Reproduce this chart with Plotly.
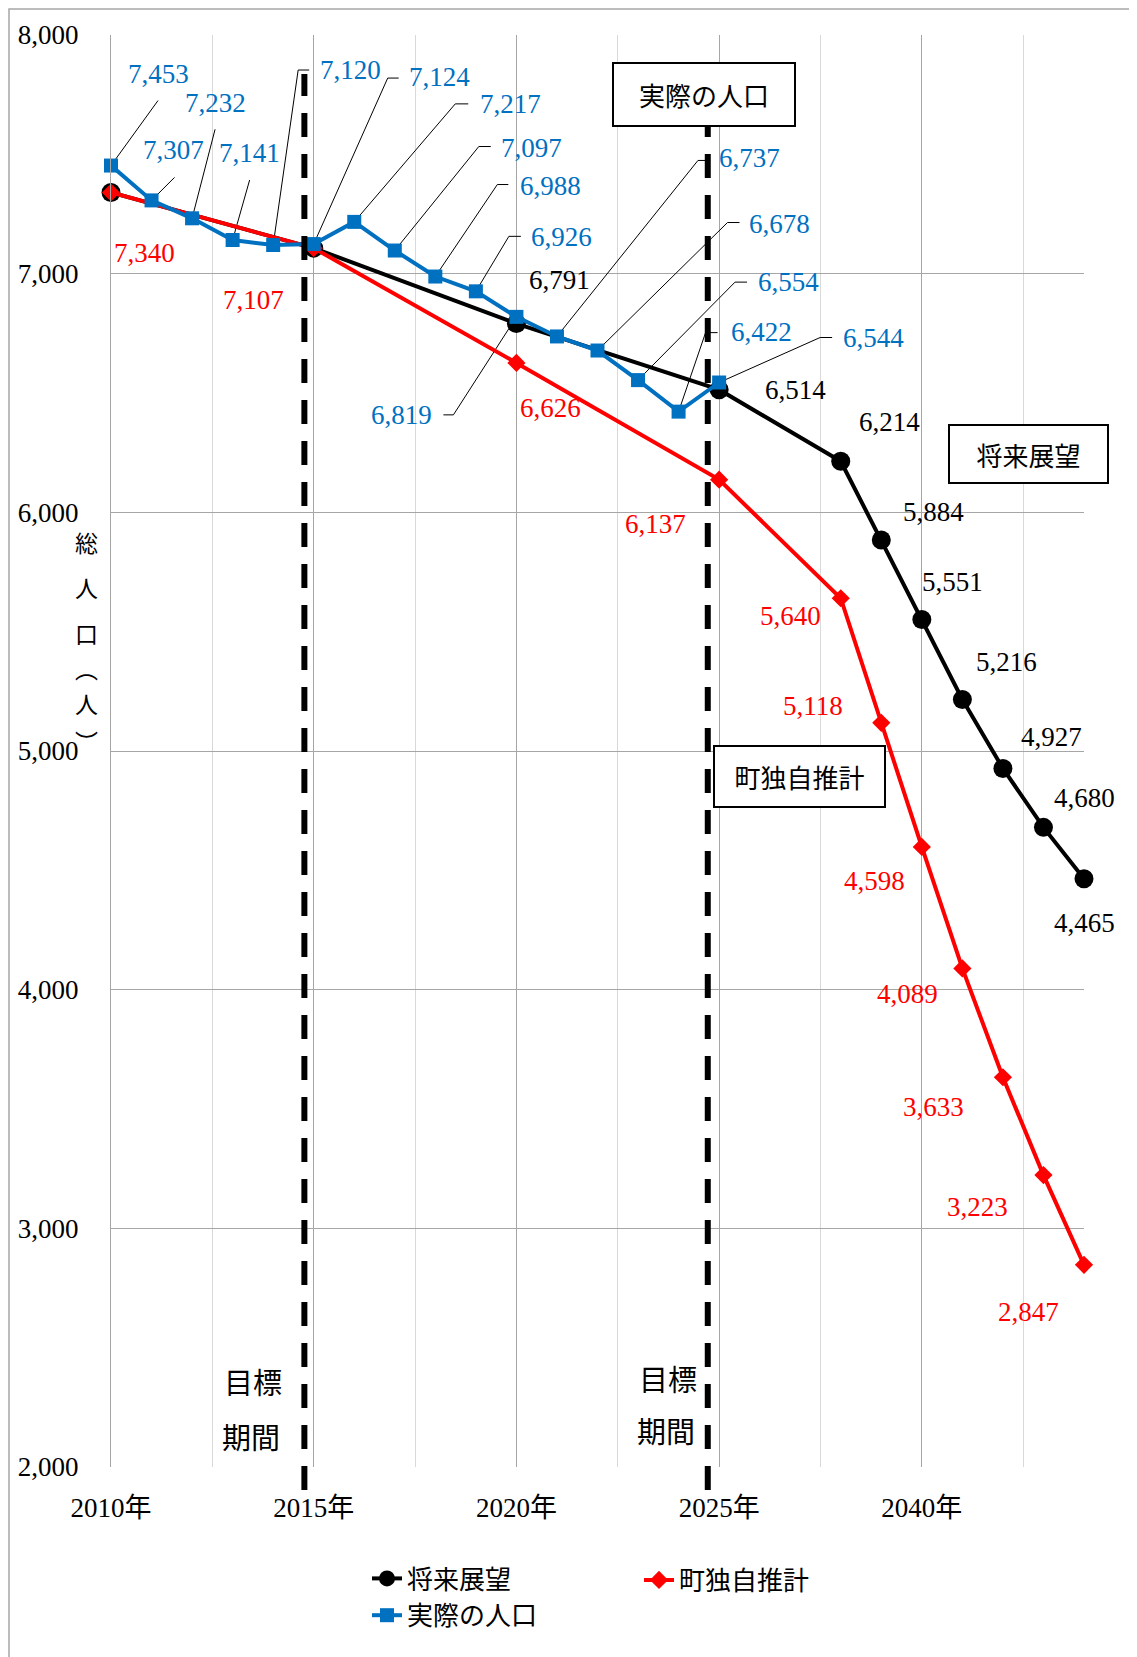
import plotly.graph_objects as go

# ---------------- data ----------------
years = [2010, 2011, 2012, 2013, 2014, 2015, 2016, 2017, 2018, 2019,
         2020, 2021, 2022, 2023, 2024, 2025, 2026, 2027,
         2030, 2035, 2040, 2045, 2050, 2055, 2060]
tick_years = [2010, 2015, 2020, 2025, 2040]

proj_years = [2010, 2015, 2020, 2025, 2030, 2035, 2040, 2045, 2050, 2055, 2060]
future_vision = [7340, 7107, 6791, 6514, 6214, 5884, 5551, 5216, 4927, 4680, 4465]
town_estimate = [7340, 7107, 6626, 6137, 5640, 5118, 4598, 4089, 3633, 3223, 2847]

actual_years = [2010, 2011, 2012, 2013, 2014, 2015, 2016, 2017,
                2018, 2019, 2020, 2021, 2022, 2023, 2024, 2025]
actual_pop = [7453, 7307, 7232, 7141, 7120, 7124, 7217, 7097,
              6988, 6926, 6819, 6737, 6678, 6554, 6422, 6544]

# ---------------- label placement (pixel offsets, screen y down) ----------------
black_offsets = [None, None, (43, -44), (76, 0), (49, -39), (52, -28), (31, -37),
                 (44, -37), (49, -31), (41, -29), (0, 44)]
red_offsets = [(33, 60), (-60, 52), (34, 45), (-64, 44), (-50, 18), (-68, -17),
               (-47, 34), (-55, 26), (-69, 30), (-66, 32), (-56, 47)]
blue_offsets = [
    ((47, -92), [(47, -65)]),
    ((22, -50), [(23, -23)]),
    ((23, -115), [(23, -89)]),
    ((17, -87), [(17, -60)]),
    ((77, -175), [(25, -175), (36, -175)]),
    ((126, -167), [(74, -166), (85, -166)]),
    ((156, -118), [(101, -118), (114, -118)]),
    ((137, -103), [(84, -104), (96, -104)]),
    ((115, -91), [(62, -92), (73, -92)]),
    ((86, -54), [(33, -55), (45, -55)]),
    ((-115, 98), [(-63, 98), (-73, 98)]),
    ((193, -178), [(141, -176), (150, -176)]),
    ((182, -127), [(130, -128), (142, -128)]),
    ((150, -98), [(97, -98), (109, -98)]),
    ((83, -80), [(27, -79), (39, -79)]),
    ((154, -45), [(101, -45), (113, -45)]),
]

BLUE = "#0070C0"
RED = "#FF0000"
NUMFONT = "Liberation Serif, Noto Sans CJK JP"
JPFONT = "Noto Sans CJK JP"

# page has an 8px body margin; figure is sized to fit
OFF = 8
W, H = 1137 - OFF, 1657 - OFF
L, R, T, B = 111, 1084, 35, 1467   # plot area in page pixels


def px(x):
    return (x - L) / (R - L)


def py(y):
    return (B - y) / (B - T)


xi = {y: i for i, y in enumerate(years)}
fx = [xi[y] for y in proj_years]
ax_ = [xi[y] for y in actual_years]

fig = go.Figure()
fig.add_trace(go.Scatter(x=fx, y=future_vision, name="将来展望", mode="lines+markers",
                         line=dict(color="black", width=4),
                         marker=dict(symbol="circle", size=19, color="black"),
                         cliponaxis=False, legend="legend"))
fig.add_trace(go.Scatter(x=fx, y=town_estimate, name="町独自推計", mode="lines+markers",
                         line=dict(color=RED, width=4),
                         marker=dict(symbol="diamond", size=14, color=RED),
                         cliponaxis=False, legend="legend2"))
fig.add_trace(go.Scatter(x=ax_, y=actual_pop, name="実際の人口", mode="lines+markers",
                         line=dict(color=BLUE, width=4),
                         marker=dict(symbol="square", size=14, color=BLUE),
                         cliponaxis=False, legend="legend"))

annotations = []
shapes = []

for x, v, off in zip(fx, future_vision, black_offsets):
    if off is None:
        continue
    annotations.append(dict(x=x, y=v, xref="x", yref="y", text=f"{v:,}", showarrow=False,
                            xshift=off[0], yshift=-off[1],
                            font=dict(family=NUMFONT, size=27, color="black")))
for x, v, off in zip(fx, town_estimate, red_offsets):
    annotations.append(dict(x=x, y=v, xref="x", yref="y", text=f"{v:,}", showarrow=False,
                            xshift=off[0], yshift=-off[1],
                            font=dict(family=NUMFONT, size=27, color=RED)))
for x, v, (toff, leader) in zip(ax_, actual_pop, blue_offsets):
    annotations.append(dict(x=x, y=v, xref="x", yref="y", text=f"{v:,}", showarrow=False,
                            xshift=toff[0], yshift=-toff[1],
                            font=dict(family=NUMFONT, size=27, color=BLUE)))
    path = "M0,0 " + " ".join(f"L{p[0]},{-p[1]}" for p in leader)
    shapes.append(dict(type="path", xref="x", yref="y", xsizemode="pixel", ysizemode="pixel",
                       xanchor=x, yanchor=v, path=path, layer="between",
                       line=dict(color="black", width=1)))

# dashed target-period lines
shapes.append(dict(type="line", xref="x", yref="paper", x0=4.77, x1=4.77,
                   y0=py(1490), y1=py(74), layer="above",
                   line=dict(color="black", width=6, dash="24px,17px")))
shapes.append(dict(type="line", xref="x", yref="paper", x0=14.72, x1=14.72,
                   y0=py(1490), y1=py(127), layer="above",
                   line=dict(color="black", width=6, dash="24px,17px")))
# outer frame (top and left edges visible)
shapes.append(dict(type="rect", xref="paper", yref="paper", x0=px(9), x1=px(1180),
                   y0=py(1720), y1=py(9), line=dict(color="#a6a6a6", width=1.5)))

# boxed texts
for txt, cx, cy, w, h in [("実際の人口", 704, 94.5, 180, 61),
                          ("将来展望", 1028.5, 454, 157, 56),
                          ("町独自推計", 799.5, 776.5, 169, 59)]:
    annotations.append(dict(x=px(cx), y=py(cy), xref="paper", yref="paper", text=txt,
                            xanchor="center", yanchor="middle",
                            showarrow=False, width=w, height=h, borderpad=0,
                            bordercolor="black", borderwidth=2, bgcolor="white",
                            font=dict(family=JPFONT, size=26, color="black")))

# 目標期間 labels
for txt, cx, cy in [("目標", 253, 1381), ("期間", 251, 1436), ("目標", 668, 1378), ("期間", 666, 1430)]:
    annotations.append(dict(x=px(cx), y=py(cy), xref="paper", yref="paper", text=txt,
                            xanchor="center", yanchor="middle",
                            showarrow=False, font=dict(family=JPFONT, size=29, color="black")))

# vertical y-axis title
for ch, cy in [("総", 542), ("人", 587), ("口", 633), ("︵", 668), ("人", 703), ("︶", 741)]:
    annotations.append(dict(x=px(86), y=py(cy), xref="paper", yref="paper", text=ch,
                            xanchor="center", yanchor="middle",
                            showarrow=False, font=dict(family=JPFONT, size=23, color="black")))

leg_font = dict(family=JPFONT, size=26, color="black")

fig.update_layout(
    width=W, height=H,
    margin=dict(l=L - OFF, r=(W + OFF) - R, t=T - OFF, b=(H + OFF) - B),
    plot_bgcolor="white", paper_bgcolor="white",
    font=dict(family=NUMFONT, size=27, color="black"),
    showlegend=True,
    xaxis=dict(range=[0, len(years) - 1], tickmode="array",
               tickvals=[xi[y] for y in tick_years],
               ticktext=[f"{y}年" for y in tick_years],
               showgrid=True, gridcolor="#a6a6a6", gridwidth=1.3,
               minor=dict(tickvals=[2.5, 7.5, 12.5, 17.5, 22.5], showgrid=True,
                          gridcolor="#d9d9d9", gridwidth=1),
               zeroline=False, showline=False, ticks="", ticklabelstandoff=22,
               automargin=False,
               tickfont=dict(family=NUMFONT, size=27)),
    yaxis=dict(range=[2000, 8000], dtick=1000, tickformat=",d",
               showgrid=True, gridcolor="#a6a6a6", gridwidth=1.3,
               zeroline=False, showline=True, linecolor="#a6a6a6", linewidth=1.3,
               ticks="", ticklabelstandoff=26, automargin=False,
               tickfont=dict(family=NUMFONT, size=27)),
    legend=dict(x=px(367), y=py(1597), orientation="v", xanchor="left", yanchor="middle",
                bgcolor="rgba(0,0,0,0)", font=leg_font, tracegroupgap=0),
    legend2=dict(x=px(639), y=py(1580), orientation="h", xanchor="left", yanchor="middle",
                 bgcolor="rgba(0,0,0,0)", font=leg_font),
    annotations=annotations,
    shapes=shapes,
)

fig.write_html("out.html")
